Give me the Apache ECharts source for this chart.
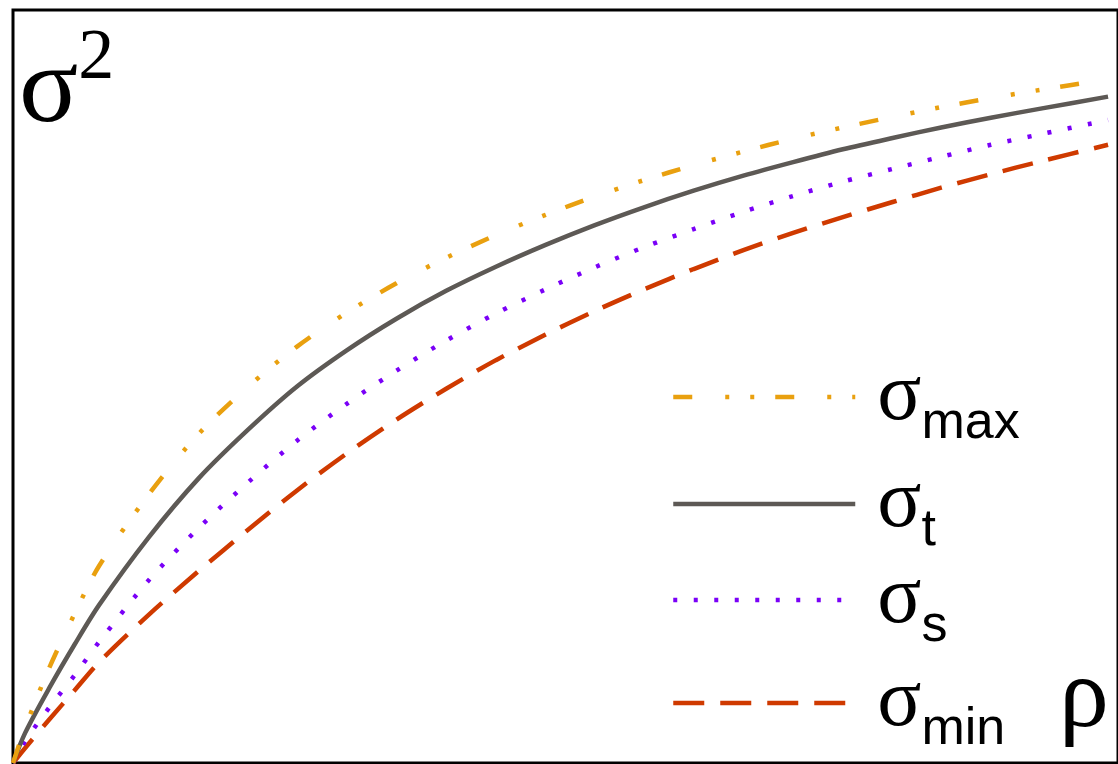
<!DOCTYPE html>
<html>
<head>
<meta charset="utf-8">
<script src="https://cdn.jsdelivr.net/npm/echarts@6/dist/echarts.min.js"></script>
<style>
html,body{margin:0;padding:0;background:#fff;}
#chart{width:1118px;height:764px;}
</style>
</head>
<body>
<div id="chart"></div>
<script>
// ρ values (x axis, normalised 0..1)
const rho = [0, 0.011, 0.033, 0.056, 0.078, 0.123, 0.168, 0.213, 0.257, 0.302, 0.347, 0.392, 0.437, 0.482, 0.526, 0.571, 0.616, 0.661, 0.706, 0.751, 0.796, 0.840, 0.885, 0.930, 0.991];
// σ² values (normalised 0..1)
const sigmaMax = [0, 0.047, 0.127, 0.199, 0.262, 0.357, 0.437, 0.500, 0.553, 0.598, 0.637, 0.671, 0.701, 0.728, 0.752, 0.774, 0.794, 0.812, 0.829, 0.844, 0.858, 0.871, 0.883, 0.894, 0.908];
const sigmaT   = [0, 0.040, 0.100, 0.158, 0.210, 0.300, 0.378, 0.443, 0.500, 0.548, 0.590, 0.627, 0.659, 0.688, 0.714, 0.738, 0.760, 0.780, 0.798, 0.815, 0.830, 0.844, 0.857, 0.869, 0.885];
const sigmaS   = [0, 0.029, 0.074, 0.117, 0.161, 0.243, 0.312, 0.373, 0.428, 0.477, 0.521, 0.561, 0.597, 0.629, 0.658, 0.685, 0.709, 0.732, 0.753, 0.772, 0.789, 0.805, 0.821, 0.835, 0.854];
const sigmaMin = [0, 0.020, 0.058, 0.097, 0.134, 0.197, 0.255, 0.310, 0.362, 0.411, 0.456, 0.497, 0.535, 0.569, 0.600, 0.629, 0.656, 0.681, 0.704, 0.725, 0.745, 0.764, 0.782, 0.799, 0.821];
const seriesNames = ['σ_max', 'σ_t', 'σ_s', 'σ_min'];
const seriesValues = [sigmaMax, sigmaT, sigmaS, sigmaMin];
const xAxisName = 'ρ';

const colors = ['#e9a00f', '#5d5955', '#7a00f7', '#cf3a00'];
const dashes = [[19, 33, 4, 21, 4, 21], 'solid', [4, 16.5], [31, 16]];
const legendTops = [356, 463, 559, 662];

const chart = echarts.init(document.getElementById('chart'), null, {renderer: 'canvas'});

const series = seriesNames.map((name, i) => ({
  name: name,
  type: 'line',
  data: rho.map((x, k) => [x, seriesValues[i][k]]),
  smooth: 0.3,
  symbol: 'none',
  showSymbol: false,
  lineStyle: {color: colors[i], width: 4.5, type: dashes[i], cap: 'butt'},
  itemStyle: {color: colors[i]},
  z: 4 - i
}));

const legends = seriesNames.map((name, i) => ({
  orient: 'vertical',
  left: 671, top: legendTops[i], padding: 0,
  itemWidth: 182, itemHeight: 20,
  selectedMode: false,
  data: [name],
  itemStyle: {opacity: 0},
  lineStyle: {width: 4.5},
  formatter: function (n) {
    return '{s|σ}{b|' + n.split('_')[1] + '}';
  },
  textStyle: {
    color: '#000',
    padding: [0, 0, 0, 17],
    rich: {
      s: {fontFamily: 'Liberation Serif', fontSize: 82, lineHeight: 82, verticalAlign: 'top', color: '#000'},
      b: {fontFamily: 'Liberation Sans', fontSize: 52, lineHeight: 52, verticalAlign: 'top', padding: [42, 0, 0, 0], color: '#000'}
    }
  }
}));

const option = {
  animation: false,
  backgroundColor: '#ffffff',
  grid: {
    left: 13, right: -10, top: 10, bottom: 1,
    show: true, borderColor: '#000', borderWidth: 3, backgroundColor: 'transparent'
  },
  xAxis: {
    type: 'value', min: 0, max: 1,
    axisLine: {show: false}, axisTick: {show: false}, axisLabel: {show: false}, splitLine: {show: false},
    name: xAxisName,
    nameLocation: 'end',
    nameGap: -59,
    nameTextStyle: {
      fontFamily: 'Liberation Serif', fontSize: 100, color: '#000',
      align: 'left', verticalAlign: 'bottom', lineHeight: 100, padding: [0, 0, 13, 0]
    }
  },
  yAxis: {
    type: 'value', min: 0, max: 1,
    axisLine: {show: false}, axisTick: {show: false}, axisLabel: {show: false}, splitLine: {show: false},
    name: '{s|σ}{p|2}',
    nameLocation: 'end',
    nameGap: -13,
    nameTextStyle: {
      align: 'left', verticalAlign: 'top', padding: [0, 0, 0, 6],
      rich: {
        s: {fontFamily: 'Liberation Serif', fontSize: 110, lineHeight: 138, color: '#000'},
        p: {fontFamily: 'Liberation Serif', fontSize: 72, lineHeight: 72, verticalAlign: 'top', color: '#000'}
      }
    }
  },
  legend: legends,
  series: series
};
chart.setOption(option);
</script>
</body>
</html>
